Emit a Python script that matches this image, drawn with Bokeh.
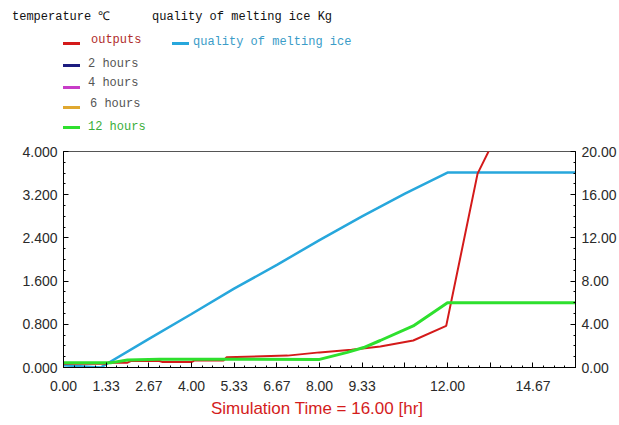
from bokeh.plotting import figure
from bokeh.layouts import column
from bokeh.models import (Range1d, LinearAxis, FixedTicker, PrintfTickFormatter, Div)
from bokeh.embed import file_html
from bokeh.resources import INLINE

# ---- data ----
red_t = [0.0, 1.33, 1.40, 2.0, 2.1, 3.0, 3.1, 4.0, 4.1, 5.0, 5.1, 7.0, 8.0, 9.0, 9.9, 10.93, 11.96, 12.94, 13.7]
red_v = [0.07, 0.07, 0.09, 0.09, 0.12, 0.12, 0.10, 0.10, 0.13, 0.13, 0.19, 0.22, 0.28, 0.33, 0.39, 0.50, 0.77, 3.59, 4.5]

green_t = [0.0, 1.5, 2.0, 3.0, 8.0, 8.87, 9.38, 9.9, 10.93, 12.0, 16.0]
green_v = [0.09, 0.09, 0.14, 0.155, 0.15, 0.28, 0.37, 0.50, 0.77, 1.20, 1.20]

blue_t = [0.0, 1.16, 2.67, 4.0, 5.33, 6.67, 8.0, 9.33, 10.67, 12.0, 16.0]
blue_v = [0.2, 0.0, 2.65, 4.95, 7.3, 9.5, 11.8, 14.0, 16.1, 18.05, 18.05]

x_ticks = [0.0, 1.33, 2.67, 4.0, 5.33, 6.67, 8.0, 9.33, 10.67, 12.0, 13.33, 14.67]
x_labels = ["0.00", "1.33", "2.67", "4.00", "5.33", "6.67", "8.00", "9.33", "", "12.00", "", "14.67"]
y_left_ticks = [0.0, 0.8, 1.6, 2.4, 3.2, 4.0]
y_right_ticks = [0, 4, 8, 12, 16, 20]

legend_labels = ["outputs", "2 hours", "4 hours", "6 hours", "12 hours", "quality of melting ice"]
legend_colors = ["#d41a1a", "#1c1c80", "#c83cc8", "#e0a830", "#2ee02e", "#27a7dc"]
legend_text_colors = ["#b02c2c", "#555555", "#555555", "#555555", "#3aae3a", "#3a9cc8"]
heading_left = "temperature ℃"
heading_right = "quality of melting ice Kg"

SANS = "Liberation Sans"
MONO = "Liberation Mono"
H_HEIGHT = 140

# ---------------- header: legend block ----------------
# layout only: (swatch left, swatch centre y, text left, text centre y)
places = [(63, 43, 91, 40), (63, 65, 88, 64), (63, 87, 88, 83), (63, 107, 90, 104),
          (63, 127, 88, 127), (172, 43, 193, 42)]
parts = []
for txt, x in [(heading_left, 12), (heading_right, 152)]:
    parts.append(f'<span style="position:absolute;left:{x}px;top:10px;line-height:14px;'
                 f'color:#111;white-space:pre">{txt}</span>')
for lab, col, tcol, (sx, sy, tx, ty) in zip(legend_labels, legend_colors, legend_text_colors, places):
    parts.append(f'<span style="position:absolute;left:{sx}px;top:{sy - 1.5}px;width:17px;'
                 f'height:3px;background:{col}"></span>')
    parts.append(f'<span style="position:absolute;left:{tx}px;top:{ty - 7}px;line-height:14px;'
                 f'color:{tcol};white-space:pre">{lab}</span>')
html = (f'<div style="position:relative;width:619px;height:{H_HEIGHT}px;background:white;'
        f'font-family:\'{MONO}\';font-size:12px;margin:0;padding:0">' + "".join(parts) + '</div>')
header = Div(text=html, width=619, height=H_HEIGHT, margin=0)

# ---------------- chart ----------------
p = figure(width=619, height=425 - H_HEIGHT, output_backend="svg", toolbar_location=None,
           x_range=Range1d(0, 16), y_range=Range1d(0, 4),
           min_border_left=63, min_border_right=41, min_border_top=11, min_border_bottom=58)
p.extra_y_ranges = {"ice": Range1d(0, 20)}
p.xgrid.visible = False
p.ygrid.visible = False
p.outline_line_color = "#555555"
p.background_fill_color = "white"
p.border_fill_color = "white"

def style_axis(ax, ticks, minor):
    ax.ticker = FixedTicker(ticks=ticks, minor_ticks=minor)
    ax.major_tick_in = 5
    ax.major_tick_out = 0
    ax.minor_tick_in = 2
    ax.minor_tick_out = 0
    ax.axis_line_color = "black"
    ax.major_tick_line_color = "black"
    ax.minor_tick_line_color = "black"
    ax.major_label_text_font = SANS
    ax.major_label_text_font_size = "14px"
    ax.major_label_text_color = "#2a2a2a"

ya = p.yaxis[0]
style_axis(ya, y_left_ticks, [i * 0.2 for i in range(21)])
ya.formatter = PrintfTickFormatter(format="%.3f")
ya.major_label_standoff = 6

ra = LinearAxis(y_range_name="ice")
style_axis(ra, y_right_ticks, [i * 1.0 for i in range(21)])
ra.formatter = PrintfTickFormatter(format="%.2f")
ra.major_label_standoff = 6
p.add_layout(ra, "right")

xa = p.xaxis[0]
style_axis(xa, x_ticks, [i / 3.0 for i in range(49)])
xa.major_label_overrides = {t: l for t, l in zip(x_ticks, x_labels)}
xa.major_label_standoff = 13
xa.axis_label = "Simulation Time =  16.00 [hr]"
xa.axis_label_text_font = SANS
xa.axis_label_text_font_size = "17px"
xa.axis_label_text_font_style = "normal"
xa.axis_label_text_color = "#d41c1c"
xa.axis_label_standoff = 5

r_ice = p.line(blue_t, blue_v, line_color=legend_colors[5], line_width=2.5, y_range_name="ice")
r_out = p.line(red_t, red_v, line_color=legend_colors[0], line_width=2)
r_12 = p.line(green_t, green_v, line_color=legend_colors[4], line_width=3)

layout = column(header, p, spacing=0)
open("out.html", "w").write(file_html(layout, INLINE))
